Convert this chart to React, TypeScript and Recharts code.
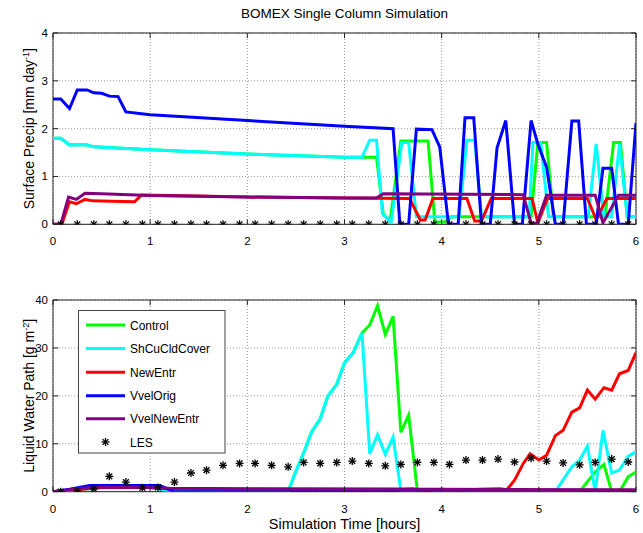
import React from "react";
import {
  ComposedChart,
  Line,
  Scatter,
  XAxis,
  YAxis,
  CartesianGrid,
  ReferenceArea,
} from "recharts";

type Pt = [number, number];

// x ticks (hours) and y ticks for both panels
const hourTicks = [0, 1, 2, 3, 4, 5, 6];
const precipTicks = [0, 1, 2, 3, 4];
const lwpTicks = [0, 10, 20, 30, 40];

// LES reference output, every 10 minutes
const lesTimes = [
  0.08, 0.25, 0.42, 0.58, 0.75, 0.92, 1.08, 1.25, 1.42, 1.58, 1.75, 1.92,
  2.08, 2.25, 2.42, 2.58, 2.75, 2.92, 3.08, 3.25, 3.42, 3.58, 3.75, 3.92,
  4.08, 4.25, 4.42, 4.58, 4.75, 4.92, 5.08, 5.25, 5.42, 5.58, 5.75, 5.92,
];
const lesPrecip = [
  0, 0, 0, 0, 0, 0, 0, 0, 0, 0, 0, 0, 0, 0, 0, 0, 0, 0,
  0, 0, 0, 0, 0, 0, 0, 0, 0, 0, 0, 0, 0, 0, 0, 0, 0, 0,
];
const lesLwp = [
  0, 0.1, 0.6, 3.2, 2.0, 0.8, 0.9, 2.0, 3.9, 4.5, 5.5, 5.9, 5.9, 5.5, 5.2, 6.1,
  5.9, 6.1, 6.4, 5.9, 5.4, 5.7, 6.1, 6.1, 5.7, 6.6, 6.6, 6.8, 6.2, 7.0, 6.4, 6.0,
  5.6, 6.1, 6.8, 6.2,
];

// surface precip [mm/day], (hour, value)
const precipControl: Pt[] = [
  [0, 1.8], [0.08, 1.8], [0.17, 1.66], [0.33, 1.67], [0.42, 1.62], [1, 1.56],
  [2, 1.47], [3, 1.4], [3.33, 1.4], [3.4, 0.2], [3.47, 0.08], [3.58, 1.74],
  [3.86, 1.74], [3.93, 0.05], [4.03, 0.05], [4.1, 0.16], [4.92, 0.16],
  [4.99, 1.71], [5.08, 1.71], [5.15, 0.16], [5.68, 0.16], [5.77, 1.71],
  [5.84, 1.71], [5.91, 0.16], [6, 0.16],
];
const precipShCu: Pt[] = [
  [0, 1.8], [0.08, 1.8], [0.17, 1.66], [0.33, 1.67], [0.42, 1.62], [1, 1.56],
  [2, 1.47], [3, 1.4], [3.18, 1.4], [3.26, 1.76], [3.33, 1.76], [3.39, 0.23],
  [3.48, 0.03], [3.59, 1.71], [3.66, 1.71], [3.74, 0.16], [4.18, 0.16],
  [4.26, 1.76], [4.34, 1.76], [4.41, 0.16], [4.9, 0.16], [4.94, 1.71],
  [5.02, 1.71], [5.1, 0.16], [5.51, 0.16], [5.59, 1.68], [5.67, 0.16],
  [5.75, 0.16], [5.83, 1.68], [5.91, 0.16], [6, 0.16],
];
const precipNewEntr: Pt[] = [
  [0, 0], [0.09, 0], [0.17, 0.47], [0.24, 0.43], [0.33, 0.52], [0.41, 0.49],
  [0.6, 0.48], [0.84, 0.47], [0.91, 0.61], [1.5, 0.59], [2, 0.57], [3, 0.55],
  [3.67, 0.54], [3.78, 0.09], [3.83, 0.09], [3.91, 0.54], [4.26, 0.54],
  [4.34, 0.07], [4.41, 0.07], [4.51, 0.54], [4.93, 0.54], [4.99, 0.03],
  [5.09, 0.54], [5.5, 0.54], [5.59, 0.1], [5.7, 0.54], [6, 0.54],
];
const precipVvelOrig: Pt[] = [
  [0, 2.62], [0.08, 2.62], [0.17, 2.42], [0.25, 2.81], [0.35, 2.81],
  [0.42, 2.75], [0.5, 2.74], [0.58, 2.68], [0.67, 2.67], [0.75, 2.35],
  [1, 2.29], [2, 2.17], [3, 2.05], [3.5, 2.0], [3.57, 0], [3.66, 0],
  [3.74, 1.99], [3.9, 1.98], [3.98, 1.62], [4.07, 0], [4.17, 0], [4.24, 2.23],
  [4.33, 2.23], [4.41, 0], [4.5, 0], [4.57, 1.6], [4.66, 2.17], [4.75, 0],
  [4.83, 0], [4.92, 2.17], [4.99, 1.68], [5.08, 1.19], [5.17, 0], [5.25, 0],
  [5.34, 2.16], [5.41, 2.16], [5.49, 0], [5.59, 0], [5.66, 1.17], [5.75, 1.17],
  [5.82, 0], [5.92, 0], [6, 2.12],
];
const precipVvelNewEntr: Pt[] = [
  [0, 0], [0.08, 0], [0.16, 0.57], [0.24, 0.52], [0.33, 0.65], [0.5, 0.64],
  [1, 0.6], [2, 0.57], [3, 0.55], [3.33, 0.55], [3.4, 0.64], [4.84, 0.62],
  [4.92, 0.02], [4.98, 0.02], [5.08, 0.61], [5.58, 0.61], [5.66, 0.03],
  [5.82, 0.61], [6, 0.61],
];

// liquid water path [g/m2], (hour, value)
const lwpControl: Pt[] = [
  [0, 0], [0.3, 0.6], [0.5, 0.9], [1, 0.9], [1.2, 0.3], [1.3, 0], [2.42, 0],
  [2.49, 3.8], [2.59, 8.6], [2.66, 12.4], [2.75, 15.2], [2.83, 20], [2.92, 22.4],
  [3, 26.9], [3.09, 29], [3.18, 33.1], [3.26, 34.8], [3.34, 38.8], [3.42, 32.8],
  [3.5, 36.6], [3.58, 12.4], [3.66, 16], [3.75, 0.2], [3.85, 0], [5.42, 0],
  [5.5, 2.1], [5.58, 4.1], [5.67, 5.7], [5.75, 0], [5.83, 0], [5.92, 3.1],
  [6, 4.1],
];
const lwpShCu: Pt[] = [
  [0, 0], [0.3, 0.5], [0.5, 0.8], [1, 0.8], [1.2, 0.2], [1.3, 0], [2.42, 0],
  [2.49, 3.8], [2.59, 8.6], [2.66, 12.4], [2.75, 15.2], [2.83, 20], [2.92, 22.4],
  [3, 26.9], [3.09, 29], [3.18, 33.1], [3.26, 7.9], [3.34, 11.9], [3.42, 7.8],
  [3.5, 11.4], [3.58, 0.2], [3.65, 0], [5.17, 0], [5.34, 5.2], [5.42, 6.6],
  [5.5, 9.5], [5.58, 0], [5.66, 12.8], [5.75, 3.9], [5.83, 4.5], [5.92, 7.4],
  [6, 8.3],
];
const lwpNewEntr: Pt[] = [
  [0, 0], [0.3, 0.5], [0.5, 0.9], [1, 0.9], [1.2, 0.6], [2, 0.5], [3, 0.5],
  [3.6, 0.5], [3.7, 0.6], [3.8, 0.2], [3.9, 0.3], [4, 0.5], [4.2, 0.3],
  [4.4, 0.5], [4.6, 0.6], [4.67, 0.4], [4.75, 2.4], [4.84, 5.9], [4.91, 7.9],
  [5, 6.6], [5.08, 7.6], [5.17, 11.7], [5.25, 12.8], [5.34, 16.6], [5.42, 17.5],
  [5.5, 21.2], [5.58, 19.3], [5.67, 21.7], [5.75, 21.2], [5.83, 24.6],
  [5.92, 25.3], [6, 29],
];
const lwpVvelOrig: Pt[] = [
  [0, 0], [0.17, 0.5], [0.38, 1.3], [0.75, 1.3], [1.1, 1.3], [1.24, 0], [6, 0],
];
const lwpVvelNewEntr: Pt[] = [
  [0, 0], [0.25, 0.6], [0.5, 1.0], [1, 0.9], [1.2, 0.7], [2, 0.6], [4, 0.5],
  [6, 0.4],
];

const FONT = '"Liberation Sans", Arial, Helvetica, sans-serif';
const AXIS = "#222";

const series = [
  { name: "Control", color: "#00ff00", precip: precipControl, lwp: lwpControl },
  { name: "ShCuCldCover", color: "#00ffff", precip: precipShCu, lwp: lwpShCu },
  { name: "NewEntr", color: "#ff0000", precip: precipNewEntr, lwp: lwpNewEntr },
  { name: "VvelOrig", color: "#0000ff", precip: precipVvelOrig, lwp: lwpVvelOrig },
  { name: "VvelNewEntr", color: "#800080", precip: precipVvelNewEntr, lwp: lwpVvelNewEntr },
];

const toRows = (pts: Pt[]) => pts.map(([t, v]) => ({ t, v }));
const lesRows = (vals: number[]) => lesTimes.map((t, i) => ({ t, v: vals[i] }));

const Asterisk = (props: any) => {
  const { cx, cy } = props;
  if (cx == null || cy == null) return null;
  const r = 4;
  const d = 2.9;
  return (
    <g stroke="#000" strokeWidth={1.3}>
      <line x1={cx - r} x2={cx + r} y1={cy} y2={cy} />
      <line x1={cx} x2={cx} y1={cy - r} y2={cy + r} />
      <line x1={cx - d} x2={cx + d} y1={cy - d} y2={cy + d} />
      <line x1={cx - d} x2={cx + d} y1={cy + d} y2={cy - d} />
    </g>
  );
};

const PLOT_LEFT = 53;
const PLOT_RIGHT = 636;

interface PanelProps {
  height: number;
  plotTop: number;
  plotBottom: number;
  yMax: number;
  yTicks: number[];
  field: "precip" | "lwp";
  les: number[];
  yLabel: string;
  ySup: string;
  xLabel?: string;
}

const Panel = ({ height, plotTop, plotBottom, yMax, yTicks, field, les, yLabel, ySup, xLabel }: PanelProps) => {
  const xTick = (props: any) => {
    const { x, payload } = props;
    return (
      <g>
        <line x1={x} x2={x} y1={plotBottom} y2={plotBottom - 5} stroke={AXIS} />
        <line x1={x} x2={x} y1={plotTop} y2={plotTop + 5} stroke={AXIS} />
        <text x={x} y={plotBottom + 21} textAnchor="middle" fontSize={11.5} fontFamily={FONT} fill="#000">
          {payload.value}
        </text>
      </g>
    );
  };
  const yTick = (props: any) => {
    const { y, payload } = props;
    return (
      <g>
        <line x1={PLOT_LEFT} x2={PLOT_LEFT + 5} y1={y} y2={y} stroke={AXIS} />
        <line x1={PLOT_RIGHT} x2={PLOT_RIGHT - 5} y1={y} y2={y} stroke={AXIS} />
        <text x={48} y={y + 4} textAnchor="end" fontSize={11.5} fontFamily={FONT} fill="#000">
          {payload.value}
        </text>
      </g>
    );
  };
  const yLabelContent = () => (
    <text
      transform={`translate(34, ${(plotTop + plotBottom) / 2}) rotate(-90)`}
      textAnchor="middle"
      fontSize={14}
      fontFamily={FONT}
      fill="#000"
    >
      {yLabel}
      <tspan dy={-5} fontSize={9}>{ySup}</tspan>
      <tspan dy={5}>]</tspan>
    </text>
  );
  const xLabelContent = () => (
    <text x={(PLOT_LEFT + PLOT_RIGHT) / 2} y={plotBottom + 37} textAnchor="middle" fontSize={14.5} fontFamily={FONT} fill="#000">
      {xLabel}
    </text>
  );

  return (
    <ComposedChart
      width={643}
      height={height}
      margin={{ top: plotTop, right: 643 - PLOT_RIGHT, bottom: 0, left: 0 }}
    >
      <CartesianGrid stroke="#9a9a9a" strokeDasharray="1 2" verticalPoints={undefined} />
      <XAxis
        dataKey="t"
        type="number"
        domain={[0, 6]}
        ticks={hourTicks}
        allowDataOverflow
        height={height - plotBottom}
        axisLine={false}
        tickLine={false}
        tick={xTick}
        interval={0}
        label={xLabel ? xLabelContent : undefined}
      />
      <YAxis
        type="number"
        domain={[0, yMax]}
        ticks={yTicks}
        allowDataOverflow
        width={PLOT_LEFT}
        axisLine={false}
        tickLine={false}
        tick={yTick}
        interval={0}
        label={yLabelContent}
      />
      <ReferenceArea x1={0} x2={6} y1={0} y2={yMax} fill="none" stroke={AXIS} strokeWidth={1} ifOverflow="visible" />
      {series.map((s) => (
        <Line
          key={s.name}
          data={toRows(s[field])}
          dataKey="v"
          name={s.name}
          type="linear"
          stroke={s.color}
          strokeWidth={3}
          dot={false}
          activeDot={false}
          isAnimationActive={false}
        />
      ))}
      <Scatter data={lesRows(les)} dataKey="v" name="LES" shape={<Asterisk />} isAnimationActive={false} />
    </ComposedChart>
  );
};

const LegendBox = () => {
  const rowY = [15, 38.6, 62.3, 85.8, 108.8, 132];
  return (
    <svg width={148} height={144} style={{ position: "absolute", left: 78, top: 310, overflow: "visible" }}>
      <rect x={0.5} y={0.5} width={146.5} height={142.5} fill="#fff" stroke="#444" />
      {series.map((s, i) => (
        <g key={s.name}>
          <line x1={8} x2={47} y1={rowY[i]} y2={rowY[i]} stroke={s.color} strokeWidth={3} />
          <text x={52} y={rowY[i] + 4.5} fontSize={12} fontFamily={FONT} fill="#000">{s.name}</text>
        </g>
      ))}
      <Asterisk cx={27.5} cy={rowY[5]} />
      <text x={52} y={rowY[5] + 4.5} fontSize={12} fontFamily={FONT} fill="#000">LES</text>
    </svg>
  );
};

export default function App() {
  return (
    <div style={{ position: "absolute", left: 0, top: 0, width: 643, height: 533, background: "#fff" }}>
      <div
        style={{
          position: "absolute",
          left: 0,
          width: 689,
          top: 6,
          textAlign: "center",
          fontFamily: FONT,
          fontSize: 13.5,
          color: "#000",
        }}
      >
        BOMEX Single Column Simulation
      </div>
      <div style={{ position: "absolute", left: 0, top: 0 }}>
        <Panel
          height={250}
          plotTop={33}
          plotBottom={224.3}
          yMax={4}
          yTicks={precipTicks}
          field="precip"
          les={lesPrecip}
          yLabel="Surface Precip [mm day"
          ySup="-1"
        />
      </div>
      <div style={{ position: "absolute", left: 0, top: 250 }}>
        <Panel
          height={283}
          plotTop={50}
          plotBottom={241.7}
          yMax={40}
          yTicks={lwpTicks}
          field="lwp"
          les={lesLwp}
          yLabel="Liquid Water Path [g m"
          ySup="-2"
          xLabel="Simulation Time [hours]"
        />
      </div>
      <LegendBox />
    </div>
  );
}
